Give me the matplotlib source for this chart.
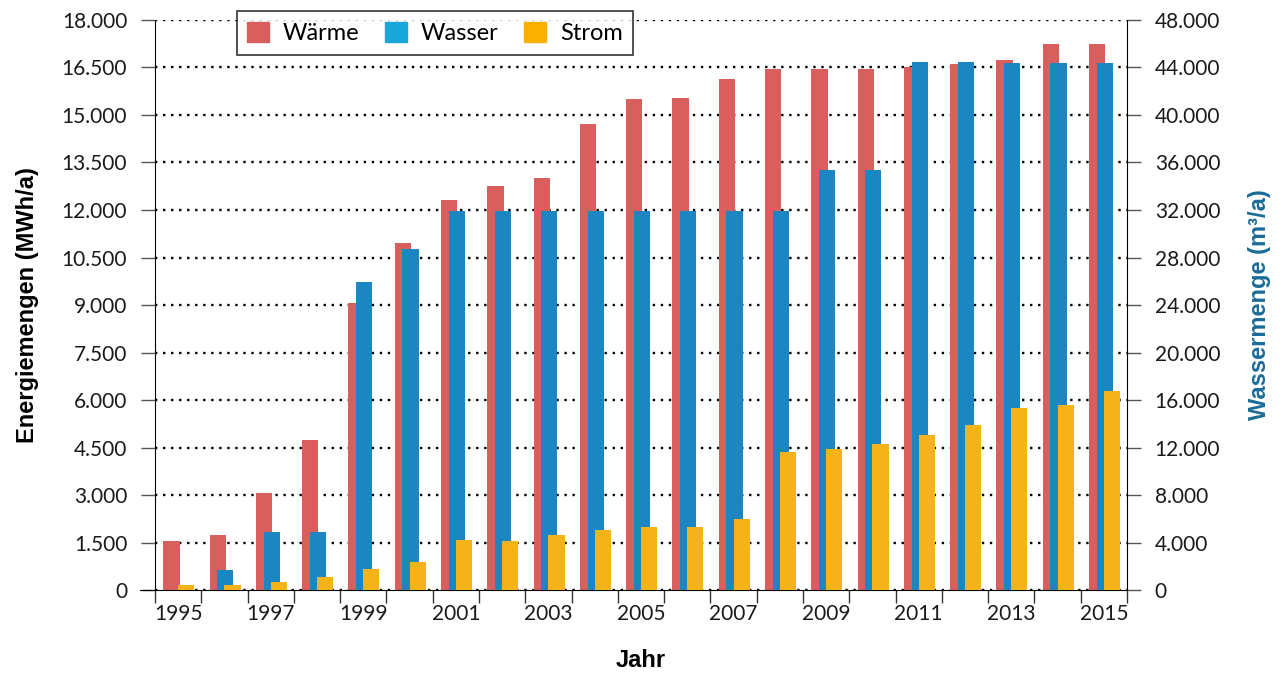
import matplotlib
matplotlib.use("Agg")
import matplotlib.pyplot as plt
from matplotlib.ticker import FixedLocator, FuncFormatter, NullFormatter
from matplotlib.patches import Patch
import numpy as np

# Daten
years = list(range(1995, 2016))
waerme = [1550, 1750, 3050, 4750, 9050, 10950, 12300, 12750, 13000, 14700,
          15500, 15550, 16150, 16450, 16450, 16450, 16500, 16600, 16750, 17250, 17250]
wasser = [0, 1700, 4900, 4900, 25900, 28700, 31900, 31900, 31900, 31900,
          31900, 31900, 31900, 31900, 35400, 35400, 44450, 44450, 44350, 44350, 44350]
strom = [150, 150, 250, 400, 650, 900, 1580, 1550, 1750, 1900,
         2000, 2000, 2250, 4350, 4450, 4600, 4900, 5200, 5750, 5850, 6300]

RED = "#d95f5e"
BLUE = "#1b86c2"
YELLOW = "#f6b21b"
LEG_BLUE = "#19a7da"
LEG_YELLOW = "#fbb000"
RIGHT_LABEL = "#1a6c98"
TICK_FONT = ["Lato", "DejaVu Sans"]
LABEL_FONT = ["Liberation Sans Narrow", "Liberation Sans", "DejaVu Sans"]

WIDTH = 0.35
OFFSETS = (-0.145, 0.02, 0.175)


def de_format(v, pos):
    return f"{int(round(v)):,}".replace(",", ".")


fig = plt.figure(figsize=(12.84, 6.73), dpi=100)
ax = fig.add_axes([0.1207, 0.1233, 0.757, 0.847])
ax2 = ax.twinx()
ax3 = ax.twinx()

x = np.arange(len(years))
ax.bar(x + OFFSETS[0], waerme, WIDTH, color=RED, zorder=2)
ax2.bar(x + OFFSETS[1], wasser, WIDTH, color=BLUE, zorder=2)
ax3.bar(x + OFFSETS[2], strom, WIDTH, color=YELLOW, zorder=2)

ax.set_ylim(0, 18000)
ax2.set_ylim(0, 48000)
ax3.set_ylim(0, 18000)
ax.set_xlim(-0.5, len(years) - 0.5)

ax.set_yticks(np.arange(0, 18001, 1500))
ax2.set_yticks(np.arange(0, 48001, 4000))
ax.yaxis.set_major_formatter(FuncFormatter(de_format))
ax2.yaxis.set_major_formatter(FuncFormatter(de_format))

# x-Achse: Striche an den Kategoriegrenzen, Beschriftung jedes zweiten Jahres
ax.xaxis.set_major_locator(FixedLocator(np.arange(len(years) + 1) - 0.5))
ax.xaxis.set_major_formatter(NullFormatter())
ax.xaxis.set_minor_locator(FixedLocator(x[::2]))
ax.set_xticklabels([str(y) for y in years[::2]], minor=True)
ax.tick_params(axis="x", which="major", length=9, width=1, color="#333333")
ax.tick_params(axis="x", which="minor", length=0, pad=10, labelsize=15,
               labelcolor="#1a1a1a")

ax.tick_params(axis="y", length=10, width=1, color="#555555", labelsize=15,
               labelcolor="#1a1a1a", pad=10)
ax2.tick_params(axis="y", length=10, width=1, color="#555555", labelsize=15,
                labelcolor="#1a1a1a", pad=10)
ax3.set_yticks([])
ax3.axis("off")

for t in ax.get_yticklabels() + ax2.get_yticklabels() + ax.get_xticklabels(minor=True):
    t.set_family(TICK_FONT)

ax.grid(axis="y", color="black", linestyle=(0, (1, 2.4)), linewidth=1.7, zorder=0)
ax.set_axisbelow(True)

for a in (ax, ax2, ax3):
    a.spines["top"].set_visible(False)
ax2.spines["left"].set_visible(False)
ax2.spines["bottom"].set_visible(False)
ax.spines["right"].set_visible(False)
ax.spines["bottom"].set_bounds(-0.83, len(years) - 0.5)

ax.set_ylabel("Energiemengen (MWh/a)", fontsize=17, fontweight="bold",
              family=LABEL_FONT, labelpad=16)
ax2.set_ylabel("Wassermenge (m³/a)", fontsize=17, fontweight="bold",
               family=LABEL_FONT, color=RIGHT_LABEL, labelpad=20)
ax.set_xlabel("Jahr", fontsize=17, fontweight="bold", family=LABEL_FONT,
              labelpad=18)

handles = [Patch(color=RED, label="Wärme"),
           Patch(color=LEG_BLUE, label="Wasser"),
           Patch(color=LEG_YELLOW, label="Strom")]
leg = ax3.legend(handles=handles, ncol=3, loc="upper left",
                 bbox_to_anchor=(0.084, 1.015), frameon=True, fancybox=False,
                 prop={"family": TICK_FONT, "size": 17}, handlelength=0.9,
                 handleheight=0.9, columnspacing=1.1, handletextpad=0.6,
                 borderpad=0.45, borderaxespad=0)
leg.get_frame().set_edgecolor("black")
leg.get_frame().set_linewidth(1.2)
leg.set_zorder(10)

fig.savefig("out.png", dpi=100)
